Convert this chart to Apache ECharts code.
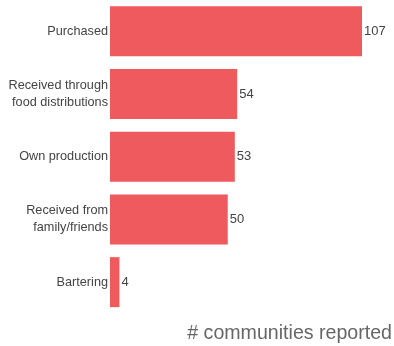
<!DOCTYPE html>
<html><head><meta charset="utf-8">
<script src="https://cdn.jsdelivr.net/npm/echarts@6/dist/echarts.min.js"></script>
<style>html,body{margin:0;padding:0;background:#fff}#c{width:394px;height:346px}</style>
</head><body><div id="c"></div>
<script>
const categories = ["Purchased","Received through\nfood distributions","Own production","Received from\nfamily/friends","Bartering"];
const values = [107,54,53,50,4];
const axisTitle = "# communities reported";

const chart = echarts.init(document.getElementById('c'), null, {renderer:'canvas'});
chart.setOption({
  animation:false,
  grid:{left:110, top:-1.5, width:252, height:315, containLabel:false},
  title:{text:axisTitle, right:2, top:324, padding:0, textStyle:{fontFamily:'Liberation Sans, Arial, sans-serif', fontSize:19.6, fontWeight:'normal', color:'#666'}},
  xAxis:{type:'value', min:0, max:107, show:false},
  yAxis:{type:'category', data:categories, inverse:true,
    axisLine:{show:false}, axisTick:{show:false},
    axisLabel:{fontFamily:'Liberation Sans, Arial, sans-serif', fontSize:12.7, color:'#444', margin:2, lineHeight:17}},
  series:[{type:'bar', data:values, barWidth:50, itemStyle:{color:'#EE5A5D'},
    label:{show:true, position:'right', distance:2, fontFamily:'Liberation Sans, Arial, sans-serif', fontSize:13, color:'#444'}}]
});
</script></body></html>
